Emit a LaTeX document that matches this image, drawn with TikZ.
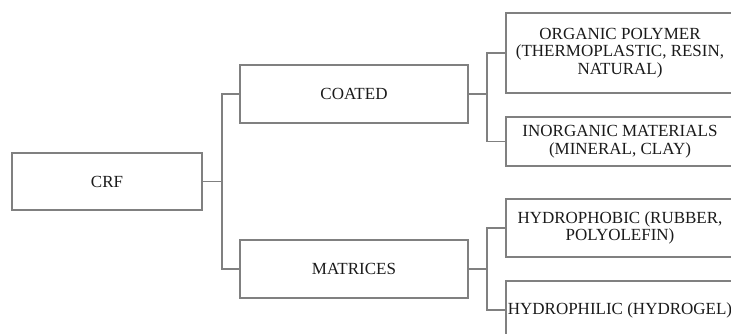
\documentclass[tikz,border=0pt]{standalone}
\usepackage{fontspec}
\setmainfont{Liberation Serif}
\definecolor{edge}{HTML}{808080}
\definecolor{ink}{HTML}{1A1A1A}
\begin{document}
\begin{tikzpicture}[x=1pt,y=-1pt,
  box/.style={draw=edge,line width=1.2pt,rectangle,minimum width=228pt,minimum height=58pt,
    inner sep=0pt,align=center,text=ink,font=\fontsize{17}{17.5}\selectfont},
  link/.style={draw=edge,line width=1.2pt}]
\useasboundingbox (0,0) rectangle (731,333);
\node[box,minimum width=190pt,minimum height=57pt] (crf) at (107,181.5) {CRF};
\node[box] (coated) at (354,94) {COATED};
\node[box] (matrices) at (354,269) {MATRICES};
\node[box,minimum height=80pt] (org) at (620,53) {ORGANIC POLYMER\\(THERMOPLASTIC, RESIN,\\NATURAL)};
\node[box,minimum height=49pt] (inorg) at (620,141.5) {INORGANIC MATERIALS\\(MINERAL, CLAY)};
\node[box] (phob) at (620,228) {HYDROPHOBIC (RUBBER,\\POLYOLEFIN)};
\node[box] (phil) at (620,310) {HYDROPHILIC (HYDROGEL)};
\coordinate (j1) at (222,181.5);
\coordinate (j2) at (487,94);
\coordinate (j3) at (487,269);
\draw[link] (crf.east) -- (j1);
\draw[link] (coated.west) -| (j1);
\draw[link] (matrices.west) -| (j1);
\draw[link] (coated.east) -- (j2);
\draw[link] (org.west) -| (j2);
\draw[link] (inorg.west) -| (j2);
\draw[link] (matrices.east) -- (j3);
\draw[link] (phob.west) -| (j3);
\draw[link] (phil.west) -| (j3);
\end{tikzpicture}
\end{document}
